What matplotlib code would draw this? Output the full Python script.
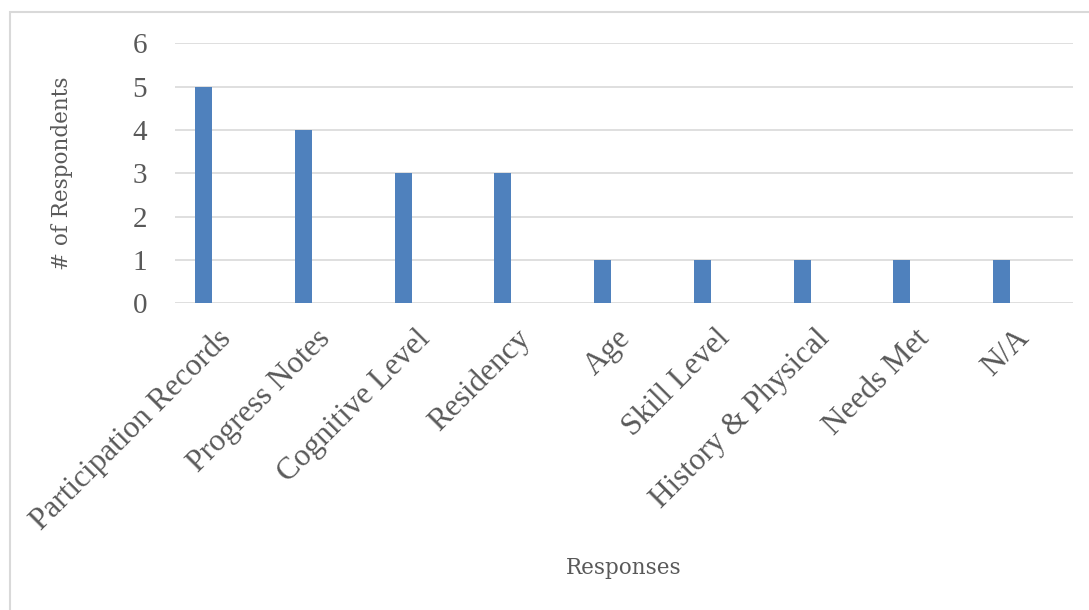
import matplotlib.pyplot as plt
import matplotlib.transforms as mtransforms
from matplotlib.patches import Rectangle

# data
responses = ['Participation Records', 'Progress Notes', 'Cognitive Level', 'Residency',
             'Age', 'Skill Level', 'History & Physical', 'Needs Met', 'N/A']
respondents = [5, 4, 3, 3, 1, 1, 1, 1, 1]

plt.rcParams['font.family'] = ['Liberation Serif', 'DejaVu Serif']
grey = '#595959'

fig = plt.figure(figsize=(10.89, 6.10), dpi=100)
ax = fig.add_axes([0.1607, 0.5025, 0.8246, 0.4264])

x = list(range(len(responses)))
ax.bar(x, respondents, width=0.17, color='#4F81BD', zorder=3)

ax.set_xlim(-0.286, len(responses) - 0.286)
ax.set_ylim(0, 6)
ax.set_yticks(range(7))
ax.grid(axis='y', color='#D9D9D9', linewidth=1.2, zorder=0)
for s in ax.spines.values():
    s.set_visible(False)

ax.tick_params(axis='y', length=0, pad=20, labelsize=21, labelcolor=grey)
ax.tick_params(axis='x', length=0, pad=0, labelsize=22.5, labelcolor=grey)
ax.set_xticks(x)
ax.set_xticklabels(responses, rotation=45, ha='right', va='baseline', rotation_mode='anchor')
offset = mtransforms.ScaledTranslation(0.285, -0.36, fig.dpi_scale_trans)
for lab in ax.get_xticklabels():
    lab.set_transform(lab.get_transform() + offset)

fig.text(62 / 1089, 1 - 173 / 610, '# of Respondents', fontsize=15.5, color=grey,
         family='DejaVu Serif', rotation=90, ha='center', va='center')
fig.text(624 / 1089, 1 - 568 / 610, 'Responses', fontsize=15.5, color=grey,
         family='DejaVu Serif', ha='center', va='center')

# outer chart border (only left and top visible in the crop)
fig.patches.append(Rectangle((10 / 1089, -0.1), 1.2, 1 - 12 / 610 + 0.1,
                             transform=fig.transFigure, fill=False,
                             edgecolor='#D9D9D9', linewidth=1.5))

fig.savefig('out.png', dpi=100)
